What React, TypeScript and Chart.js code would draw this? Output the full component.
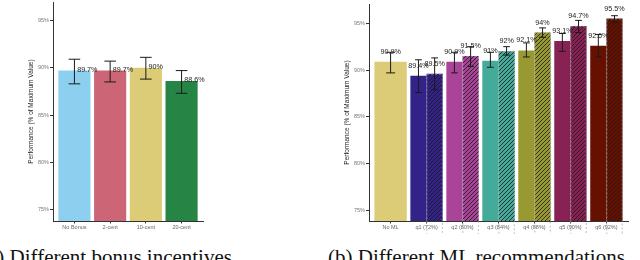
import React, { useEffect, useRef } from "react";
import { Chart, registerables } from "chart.js";
Chart.register(...registerables);

// ---------- data ----------
const yTicks = [75, 80, 85, 90, 95];

const bonusCategories = ["No Bonus", "2-cent", "10-cent", "20-cent"];
const bonusValues = [89.7, 89.7, 90.0, 88.6];
const bonusLow = [88.3, 88.5, 88.8, 87.3];
const bonusHigh = [90.9, 90.7, 91.1, 89.7];
const bonusLabels = ["89.7%", "89.7%", "90%", "88.6%"];
const bonusColors = ["#8DCFEE", "#CC6677", "#DDCC77", "#268545"];

const mlCategories = ["No ML", "q1 (72%)", "q2 (80%)", "q3 (84%)", "q4 (88%)", "q5 (90%)", "q6 (92%)"];
const mlBaseValues = [90.9, 89.4, 90.9, 91.0, 92.1, 93.1, 92.6];
const mlBaseLow = [89.7, 87.6, 89.7, 90.3, 91.4, 92.0, 91.4];
const mlBaseHigh = [91.9, 91.1, 91.9, 91.9, 92.9, 93.9, 93.8];
const mlBaseLabels = ["90.9%", "89.4%", "90.9%", "91%", "92.1%", "93.1%", "92.6%"];
const mlFollowValues = [null, 89.6, 91.5, 92.0, 94.0, 94.7, 95.5];
const mlFollowLow = [null, 87.9, 90.4, 91.6, 93.5, 94.0, 95.1];
const mlFollowHigh = [null, 91.3, 92.5, 92.5, 94.5, 95.3, 95.8];
const mlFollowLabels = [null, "89.5%", "91.5%", "92%", "94%", "94.7%", "95.5%"];
const mlColors = ["#DDCC77", "#332288", "#AA4499", "#44AA99", "#999933", "#882255", "#661100"];

const yTitle = "Performance (% of Maximum Value)";
const FAMILY = "'Liberation Sans', Arial, sans-serif";

// ---------- helpers ----------
function hatch(color: string): CanvasPattern | string {
  const c = document.createElement("canvas");
  c.width = 4;
  c.height = 4;
  const g = c.getContext("2d");
  if (!g) return color;
  g.fillStyle = color;
  g.fillRect(0, 0, 4, 4);
  g.strokeStyle = "rgba(25,25,25,0.8)";
  g.lineWidth = 1;
  g.beginPath();
  g.moveTo(0, 4);
  g.lineTo(4, 0);
  g.moveTo(-1, 1);
  g.lineTo(1, -1);
  g.moveTo(3, 5);
  g.lineTo(5, 3);
  g.stroke();
  return g.createPattern(c, "repeat") || color;
}

function decorPlugin(whisker: (w: number) => number, labelMode: "side" | "above") {
  return {
    id: "decor",
    afterDatasetsDraw(chart: any) {
      const ctx = chart.ctx as CanvasRenderingContext2D;
      const ys = chart.scales.y;
      // dashed borders of hatched bars
      chart.data.datasets.forEach((ds: any, di: number) => {
        if (!ds.hatched) return;
        const meta = chart.getDatasetMeta(di);
        meta.data.forEach((el: any, i: number) => {
          if (ds.data[i].y == null) return;
          const l = el.x - el.width / 2;
          ctx.save();
          ctx.setLineDash([2, 2]);
          ctx.strokeStyle = "rgba(160,160,160,0.9)";
          ctx.lineWidth = 0.8;
          ctx.strokeRect(l + 0.4, el.y + 0.4, el.width - 0.8, el.base - el.y - 0.8);
          ctx.restore();
        });
      });
      // error bars
      chart.data.datasets.forEach((ds: any, di: number) => {
        const meta = chart.getDatasetMeta(di);
        meta.data.forEach((el: any, i: number) => {
          const lo = ds.errLow[i];
          const hi = ds.errHigh[i];
          if (lo == null || hi == null) return;
          const x = el.x;
          const hw = whisker(el.width) / 2;
          const yl = ys.getPixelForValue(lo);
          const yh = ys.getPixelForValue(hi);
          ctx.save();
          ctx.strokeStyle = "#1a1a1a";
          ctx.lineWidth = 1;
          ctx.beginPath();
          ctx.moveTo(x, yh);
          ctx.lineTo(x, yl);
          ctx.moveTo(x - hw, yh);
          ctx.lineTo(x + hw, yh);
          ctx.moveTo(x - hw, yl);
          ctx.lineTo(x + hw, yl);
          ctx.stroke();
          ctx.restore();
        });
      });
      // value labels
      chart.data.datasets.forEach((ds: any, di: number) => {
        const meta = chart.getDatasetMeta(di);
        meta.data.forEach((el: any, i: number) => {
          const t = ds.valueLabels[i];
          if (t == null) return;
          ctx.save();
          ctx.fillStyle = "#222";
          ctx.font = `7.2px ${FAMILY}`;
          ctx.textBaseline = "middle";
          if (labelMode === "side") {
            ctx.textAlign = "left";
            ctx.fillText(t, el.x + 2.7, el.y - 1);
          } else {
            ctx.textAlign = "center";
            ctx.fillText(t, el.x, el.y - 10);
          }
          ctx.restore();
        });
      });
    },
  };
}

function makeOptions(
  cats: string[],
  yMin: number,
  yMax: number,
  yWidth: number,
  titlePad: number,
  padTop: number,
  padRight: number
): any {
  return {
    responsive: false,
    animation: false,
    devicePixelRatio: 1,
    layout: { padding: { left: 0, right: padRight, top: padTop, bottom: 0 } },
    plugins: { legend: { display: false }, tooltip: { enabled: false } },
    scales: {
      x: {
        type: "linear",
        min: -0.6,
        max: cats.length - 1 + 0.6,
        offset: false,
        afterBuildTicks: (s: any) => {
          s.ticks = cats.map((_, i) => ({ value: i }));
        },
        afterFit: (s: any) => {
          s.height = 13;
          s.paddingLeft = 0;
          s.paddingRight = 0;
        },
        ticks: {
          callback: (v: any) => cats[v],
          autoSkip: false,
          maxRotation: 0,
          minRotation: 0,
          padding: 0.5,
          color: "#666",
          font: { size: 5.5, family: FAMILY },
        },
        grid: { offset: false, drawOnChartArea: false, tickLength: 2.5, color: "#333" },
        border: { display: true, color: "#333", width: 1 },
      },
      y: {
        min: yMin,
        max: yMax,
        afterBuildTicks: (s: any) => {
          s.ticks = yTicks.map((v) => ({ value: v }));
        },
        afterFit: (s: any) => {
          s.width = yWidth;
          s.paddingTop = 0;
          s.paddingBottom = 0;
        },
        ticks: {
          callback: (v: any) => v + "%",
          padding: 1,
          color: "#777",
          font: { size: 5.5, family: FAMILY },
        },
        title: {
          display: true,
          text: yTitle,
          color: "#222",
          font: { size: 6.5, family: FAMILY },
          padding: { top: titlePad, bottom: 0 },
        },
        grid: { drawOnChartArea: false, tickLength: 3, color: "#333" },
        border: { display: true, color: "#333", width: 1 },
      },
    },
  };
}

function BonusChart() {
  const ref = useRef<HTMLCanvasElement>(null);
  useEffect(() => {
    if (!ref.current) return;
    const chart = new Chart(ref.current, {
      type: "bar",
      data: {
        datasets: [
          {
            data: bonusValues.map((v, i) => ({ x: i, y: v })),
            backgroundColor: bonusColors,
            borderWidth: 0,
            categoryPercentage: 0.9,
            barPercentage: 1,
            errLow: bonusLow,
            errHigh: bonusHigh,
            valueLabels: bonusLabels,
          } as any,
        ],
      },
      options: makeOptions(bonusCategories, 73.8, 96.95, 53, 27.8, 2, 7),
      plugins: [decorPlugin((w) => w * 0.36, "side") as any],
    });
    return () => chart.destroy();
  }, []);
  return (
    <canvas
      ref={ref}
      width={210}
      height={234}
      style={{ position: "absolute", left: 0, top: 0, width: 210, height: 234 }}
    />
  );
}

function MLChart() {
  const ref = useRef<HTMLCanvasElement>(null);
  useEffect(() => {
    if (!ref.current) return;
    const chart = new Chart(ref.current, {
      type: "bar",
      data: {
        datasets: [
          {
            data: mlBaseValues.map((v, i) => ({ x: i, y: v })),
            backgroundColor: mlColors,
            borderWidth: 0,
            categoryPercentage: 0.9,
            barPercentage: 1,
            errLow: mlBaseLow,
            errHigh: mlBaseHigh,
            valueLabels: mlBaseLabels,
          } as any,
          {
            data: mlFollowValues.map((v, i) => ({ x: i, y: v })),
            backgroundColor: mlColors.map((c) => hatch(c)),
            borderWidth: 0,
            categoryPercentage: 0.9,
            barPercentage: 1,
            hatched: true,
            errLow: mlFollowLow,
            errHigh: mlFollowHigh,
            valueLabels: mlFollowLabels,
          } as any,
        ],
      },
      options: { ...makeOptions(mlCategories, 73.9, 97.05, 39, 13.8, 4, 12), skipNull: true },
      plugins: [decorPlugin((w) => Math.min(w * 0.42, 9), "above") as any],
    });
    return () => chart.destroy();
  }, []);
  return (
    <canvas
      ref={ref}
      width={310}
      height={234}
      style={{ position: "absolute", left: 330, top: 0, width: 310, height: 234 }}
    />
  );
}

const captionStyle: React.CSSProperties = {
  position: "absolute",
  top: 247,
  fontFamily: "'Liberation Serif', 'Times New Roman', serif",
  fontSize: 21,
  lineHeight: "21px",
  color: "#111",
  whiteSpace: "nowrap",
};

export default function App() {
  return (
    <div
      style={{
        position: "fixed",
        left: 0,
        top: 0,
        width: 640,
        height: 260,
        overflow: "hidden",
        background: "#fff",
      }}
    >
      <BonusChart />
      <MLChart />
      <div style={{ ...captionStyle, left: -19 }}>(a) Different bonus incentives</div>
      <div style={{ ...captionStyle, left: 328 }}>(b) Different ML recommendations</div>
    </div>
  );
}
